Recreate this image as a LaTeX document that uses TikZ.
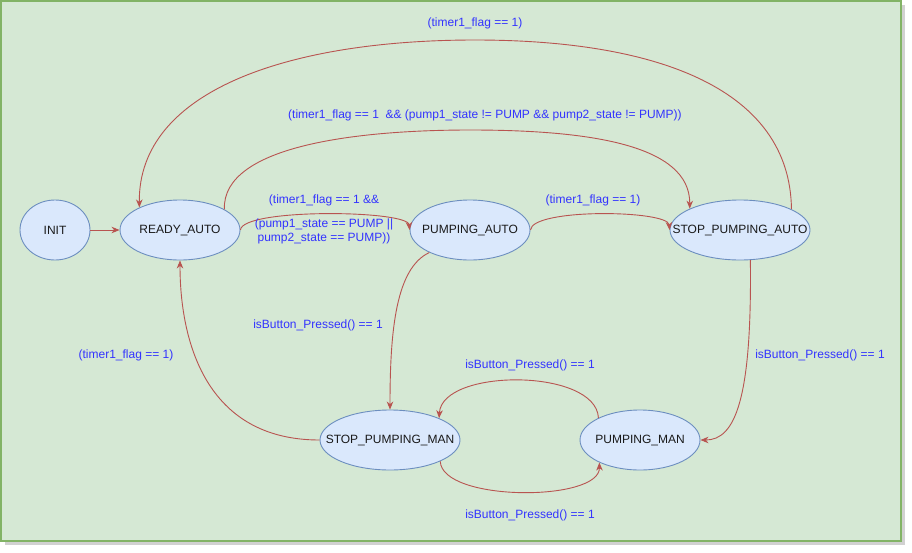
\documentclass[tikz,border=0pt]{standalone}
\usepackage{fontspec}
\setmainfont{Liberation Sans}
\usetikzlibrary{shapes.geometric,arrows.meta}

\definecolor{bggreen}{HTML}{D5E8D4}
\definecolor{bgline}{HTML}{82B366}
\definecolor{statefill}{HTML}{DAE8FC}
\definecolor{stateline}{HTML}{6C8EBF}
\definecolor{edgered}{HTML}{B85450}
\definecolor{lblblue}{HTML}{3333FF}

\tikzset{
  state/.style={ellipse, draw=stateline, fill=statefill, line width=0.9pt,
    inner xsep=-25pt, inner ysep=0pt, minimum height=60pt, text=black!90,
    font=\fontsize{12pt}{14pt}\selectfont},
  trans/.style={draw=edgered, line width=0.9pt,
    -{Stealth[length=8pt,width=6.5pt,inset=2.5pt]}},
  lbl/.style={text=lblblue, align=center, inner sep=0pt,
    font=\fontsize{12pt}{14pt}\selectfont}
}

\begin{document}
\begin{tikzpicture}[x=1pt, y=-1pt]
      \useasboundingbox (0,0) rectangle (912,552);

      % Background panel
      \fill[black, opacity=0.18] (5,5) rectangle (905,545);
      \draw[fill=bggreen, draw=bgline, line width=1.5pt] (1,1) rectangle (901,541);

      % States
      \node[state, minimum width=70pt]  (init)     at (55, 230)  {INIT};
      \node[state, minimum width=120pt] (ready)    at (180, 230) {READY\_AUTO};
      \node[state, minimum width=120pt] (pumpauto) at (470, 230) {PUMPING\_AUTO};
      \node[state, minimum width=140pt] (stopauto) at (740, 230) {STOP\_PUMPING\_AUTO};
      \node[state, minimum width=140pt] (stopman)  at (390, 440) {STOP\_PUMPING\_MAN};
      \node[state, minimum width=120pt] (pumpman)  at (640, 440) {PUMPING\_MAN};

      % Transitions
      \draw[trans] (init) -- (ready);
      \draw[trans] (ready.east) .. controls (242,208) and (408,210) .. (pumpauto.west);
      \draw[trans] (pumpauto.east) .. controls (532,208) and (668,210) .. (stopauto.west);
      \draw[trans] (ready.25) .. controls (222,145) and (360,130) .. (470,130)
                   .. controls (590,130) and (690,145) .. (stopauto.157);
      \draw[trans] (stopauto.22) .. controls (790,90) and (660,40) .. (475,40)
                   .. controls (290,40) and (138,90) .. (ready.151);
      \draw[trans] (pumpauto.209) .. controls (396,268) and (390,330) .. (stopman.north);
      \draw[trans] (stopman.west) .. controls (205,440) and (180,340) .. (ready.south);
      \draw[trans] (stopauto.-71) .. controls (752,400) and (735,440) .. (pumpman.east);
      \draw[trans] (pumpman.152) .. controls (596,368) and (442,368) .. (stopman.24);
      \draw[trans] (stopman.-23) .. controls (442,502) and (600,502) .. (pumpman.209);

      % Guards
      \node[lbl] (g1) at (475, 23)  {(timer1\_flag == 1)};
      \node[lbl] (g2) at (485, 115) {(timer1\_flag == 1~~\&\& (pump1\_state != PUMP \&\& pump2\_state != PUMP))};
      \node[lbl] (g3) at (324, 219) {(timer1\_flag == 1 \&\&\\[10pt](pump1\_state == PUMP ||\\pump2\_state == PUMP))};
      \node[lbl] (g4) at (593, 200) {(timer1\_flag == 1)};
      \node[lbl] (g5) at (318, 325) {isButton\_Pressed() == 1};
      \node[lbl] (g6) at (126, 355) {(timer1\_flag == 1)};
      \node[lbl] (g7) at (820, 355) {isButton\_Pressed() == 1};
      \node[lbl] (g8) at (530, 365) {isButton\_Pressed() == 1};
      \node[lbl] (g9) at (530, 515) {isButton\_Pressed() == 1};
\end{tikzpicture}
\end{document}
